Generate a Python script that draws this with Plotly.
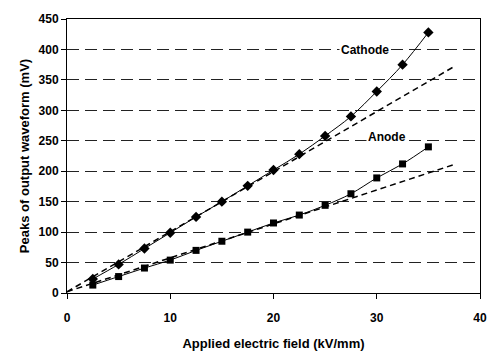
import plotly.graph_objects as go

# Applied field (kV/mm) and measured peak output (mV)
field = [2.5, 5, 7.5, 10, 12.5, 15, 17.5, 20, 22.5, 25, 27.5, 30, 32.5, 35]
cathode = [23, 47, 73, 99, 125, 150, 176, 202, 228, 258, 290, 331, 375, 428]
anode = [13, 27, 41, 54, 70, 85, 100, 115, 128, 144, 163, 189, 212, 240]

# Linear fits (endpoints of the low-field trend lines)
fit_x = [0, 37.5]
cathode_fit = [2, 372]
anode_fit = [2, 211]

x_ticks = [0, 10, 20, 30, 40]
y_ticks = [0, 50, 100, 150, 200, 250, 300, 350, 400, 450]

family = "Liberation Sans, Arial, sans-serif"
tick_font = dict(family=family, size=12, color="black", weight="bold")
title_font = dict(family=family, size=13, color="black", weight="bold")

fig = go.Figure()
fig.add_trace(go.Scatter(x=fit_x, y=cathode_fit, mode="lines",
                         line=dict(color="black", width=1.5, dash="6px,4px"), showlegend=False))
fig.add_trace(go.Scatter(x=fit_x, y=anode_fit, mode="lines",
                         line=dict(color="black", width=1.5, dash="6px,4px"), showlegend=False))
fig.add_trace(go.Scatter(x=field, y=cathode, mode="lines+markers",
                         line=dict(color="black", width=1, shape="spline"),
                         marker=dict(symbol="diamond", size=8, color="black"), showlegend=False))
fig.add_trace(go.Scatter(x=field, y=anode, mode="lines+markers",
                         line=dict(color="black", width=1, shape="spline"),
                         marker=dict(symbol="square", size=7, color="black"), showlegend=False))

fig.add_annotation(x=28.9, y=399, text="Cathode", showarrow=False,
                   font=dict(family=family, size=12, color="black"), bgcolor="white")
fig.add_annotation(x=31.0, y=256, text="Anode", showarrow=False,
                   font=dict(family=family, size=12, color="black"), bgcolor="white")

fig.update_layout(
    width=499, height=361,
    margin=dict(l=67, r=14, t=12, b=68),
    paper_bgcolor="white", plot_bgcolor="white",
    font=tick_font,
)
fig.update_xaxes(
    range=[0, 40], tickvals=x_ticks, showgrid=False, zeroline=False,
    showline=True, linecolor="black", linewidth=1, mirror=True,
    ticks="outside", ticklen=5, tickcolor="black", ticklabelstandoff=9,
    title=dict(text="Applied electric field (kV/mm)", font=title_font, standoff=14),
    tickfont=tick_font,
)
fig.update_yaxes(
    range=[0, 450], tickvals=y_ticks, showgrid=True, gridcolor="#222222", gridwidth=1,
    griddash="12px,6px", zeroline=False,
    showline=True, linecolor="black", linewidth=1, mirror=True,
    ticks="outside", ticklen=5, tickcolor="black",
    title=dict(text="Peaks of output waveform (mV)", font=title_font, standoff=6),
    tickfont=tick_font,
)

fig.write_html("out.html")
